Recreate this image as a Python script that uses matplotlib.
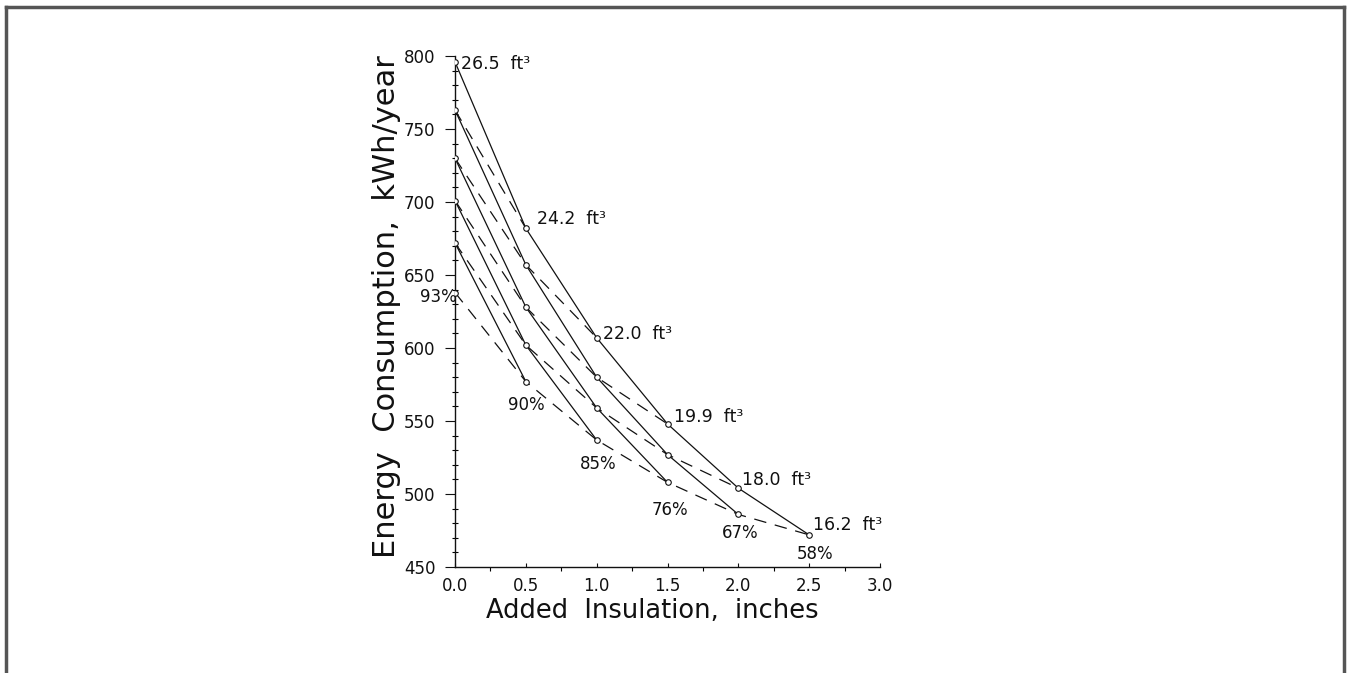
import matplotlib
matplotlib.use("Agg")
import matplotlib.pyplot as plt
from matplotlib.lines import Line2D

# insulation steps (inches)
insulation = [0.0, 0.5, 1.0, 1.5, 2.0, 2.5]

# energy use (kWh/year) for each insulation column, top point first
col_0 = [796, 763, 730, 701, 672, 638]
col_1 = [682, 657, 628, 602, 577]
col_2 = [607, 580, 559, 537]
col_3 = [548, 527, 508]
col_4 = [504, 486]
col_5 = [472]
columns = [col_0, col_1, col_2, col_3, col_4, col_5]

# labels along the top curve (volume) and the lower dashed curve (percent)
volume_labels = ["26.5", "24.2", "22.0", "19.9", "18.0", "16.2"]
percent_labels = ["93%", "90%", "85%", "76%", "67%", "58%"]

ink = "#111111"
plt.rcParams['font.family'] = ['DejaVu Sans']

fig = plt.figure(figsize=(13.49, 6.73), dpi=100)
ax = fig.add_axes([455 / 1349, 1 - 567 / 673, 425 / 1349, 511 / 673])

# solid curves: same row across columns
for row in range(len(col_0)):
    xs = [insulation[c] for c in range(len(columns)) if row < len(columns[c])]
    ys = [columns[c][row] for c in range(len(columns)) if row < len(columns[c])]
    ax.plot(xs, ys, color=ink, lw=0.9, marker="o", ms=4, mfc="white",
            mec=ink, mew=0.8, zorder=3)

# dashed curves: diagonals where column + row is constant
for d in range(1, len(col_0)):
    xs = [insulation[c] for c in range(d + 1)]
    ys = [columns[c][d - c] for c in range(d + 1)]
    ax.plot(xs, ys, color=ink, lw=0.9, linestyle=(0, (10, 7)), zorder=2)

# volume labels on top curve
vol_offsets = [(6, -2), (11, 9), (6, 4), (6, 7), (4, 8), (4, 10)]
for c, lab in enumerate(volume_labels):
    ax.annotate(lab + "  ft\u00b3", (insulation[c], columns[c][0]),
                xytext=vol_offsets[c], textcoords="offset pixels",
                ha="left", va="center", fontsize=12.5, color=ink)

# percent labels on lower dashed curve
pct_offsets = [(2, -4), (0, -23), (2, -24), (2, -28), (2, -19), (6, -19)]
for c, lab in enumerate(percent_labels):
    ha = "right" if c == 0 else "center"
    ax.annotate(lab, (insulation[c], columns[c][len(columns[c]) - 1]),
                xytext=pct_offsets[c], textcoords="offset pixels",
                ha=ha, va="center", fontsize=12, color=ink)

ax.set_xlim(0, 3.0)
ax.set_ylim(450, 800)
ax.set_xticks([0.0, 0.5, 1.0, 1.5, 2.0, 2.5, 3.0])
ax.set_xticklabels(["0.0", "0.5", "1.0", "1.5", "2.0", "2.5", "3.0"])
ax.set_xticks([0.25, 0.75, 1.25, 1.75, 2.25, 2.75], minor=True)
ax.set_yticks(range(450, 801, 50))
ax.set_yticks(range(450, 801, 10), minor=True)

for s in ["top", "right"]:
    ax.spines[s].set_visible(False)
for s in ["left", "bottom"]:
    ax.spines[s].set_color(ink)
    ax.spines[s].set_linewidth(1.0)

ax.tick_params(axis="x", which="major", direction="in", length=3, width=0.8,
               pad=7, labelsize=12, colors=ink)
ax.tick_params(axis="x", which="minor", direction="out", length=3, width=0.8)
ax.tick_params(axis="y", which="major", direction="out", length=7, width=0.8,
               pad=7, labelsize=12, colors=ink)
ax.tick_params(axis="y", which="minor", direction="inout", length=4, width=0.8)

ax.set_xlabel("Added  Insulation,  inches", fontsize=18.5, color=ink)
ax.xaxis.set_label_coords(0.465, -0.061)
ax.set_ylabel("Energy  Consumption,  kWh/year", fontsize=22, color=ink)
ax.yaxis.set_label_coords(-0.127, 0.509)

# page frame around the figure
frame = dict(color="#555555", lw=2.5, transform=fig.transFigure)
fig.add_artist(Line2D([6 / 1349, 6 / 1349], [0, 1 - 7 / 673], **frame))
fig.add_artist(Line2D([6 / 1349, 1344 / 1349], [1 - 7 / 673, 1 - 7 / 673], **frame))
fig.add_artist(Line2D([1344 / 1349, 1344 / 1349], [0, 1 - 7 / 673], **frame))

fig.savefig("out.png", dpi=100)
